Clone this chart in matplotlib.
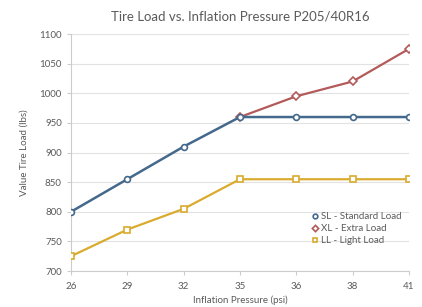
import matplotlib
matplotlib.use("Agg")
import matplotlib.pyplot as plt
import numpy as np

pressures = ["26", "29", "32", "35", "36", "38", "41"]
sl_load = [800, 855, 910, 960, 960, 960, 960]
xl_load = [np.nan, np.nan, np.nan, 960, 995, 1020, 1075]
ll_load = [725, 770, 805, 855, 855, 855, 855]

plt.rcParams['font.family'] = ['Lato', 'DejaVu Sans']
txt = '#5a5a5a'

fig = plt.figure(figsize=(4.22, 3.07), dpi=100)
ax = fig.add_axes([0.168, 0.117, 0.801, 0.772])
x = np.arange(len(pressures))

ax.plot(x, xl_load, color='#b35a5a', lw=1.6, marker='D', ms=4, mfc='white', mew=1.2, label='XL - Extra Load', zorder=3)
ax.plot(x, sl_load, color='#44698c', lw=1.8, marker='o', ms=4.2, mfc='white', mew=1.2, label='SL - Standard Load', zorder=4)
ax.plot(x, ll_load, color='#d9ab2e', lw=1.6, marker='s', ms=4, mfc='white', mew=1.2, label='LL - Light Load', zorder=3)

ax.set_xlim(0, len(x) - 1)
ax.set_ylim(700, 1100)
ax.set_yticks(np.arange(700, 1101, 50))
ax.set_xticks(x)
ax.set_xticklabels(pressures)
ax.grid(axis='y', color='#e2e2e2', lw=0.8)
ax.set_axisbelow(True)
for s in ['top', 'right']:
    ax.spines[s].set_visible(False)
for s in ['left', 'bottom']:
    ax.spines[s].set_color('#cccccc')
ax.tick_params(colors='#cccccc', labelcolor=txt, labelsize=7, length=3)
ax.tick_params(axis='x', pad=5)
ax.set_title('Tire Load vs. Inflation Pressure P205/40R16', color=txt, fontsize=9.5, pad=10)
ax.set_xlabel('Inflation Pressure (psi)', color=txt, fontsize=7, labelpad=3)
ax.set_ylabel('Value Tire Load (lbs)', color=txt, fontsize=7, labelpad=8)

h, l = ax.get_legend_handles_labels()
order = [1, 0, 2]
leg = ax.legend([h[i] for i in order], [l[i] for i in order], loc='lower right',
                bbox_to_anchor=(1.0, 0.08), frameon=False, fontsize=7, labelcolor=txt,
                handlelength=0, handletextpad=0.7, borderaxespad=0.3, labelspacing=0.3,
                markerscale=0.8)
fig.savefig('out.png', dpi=100)
